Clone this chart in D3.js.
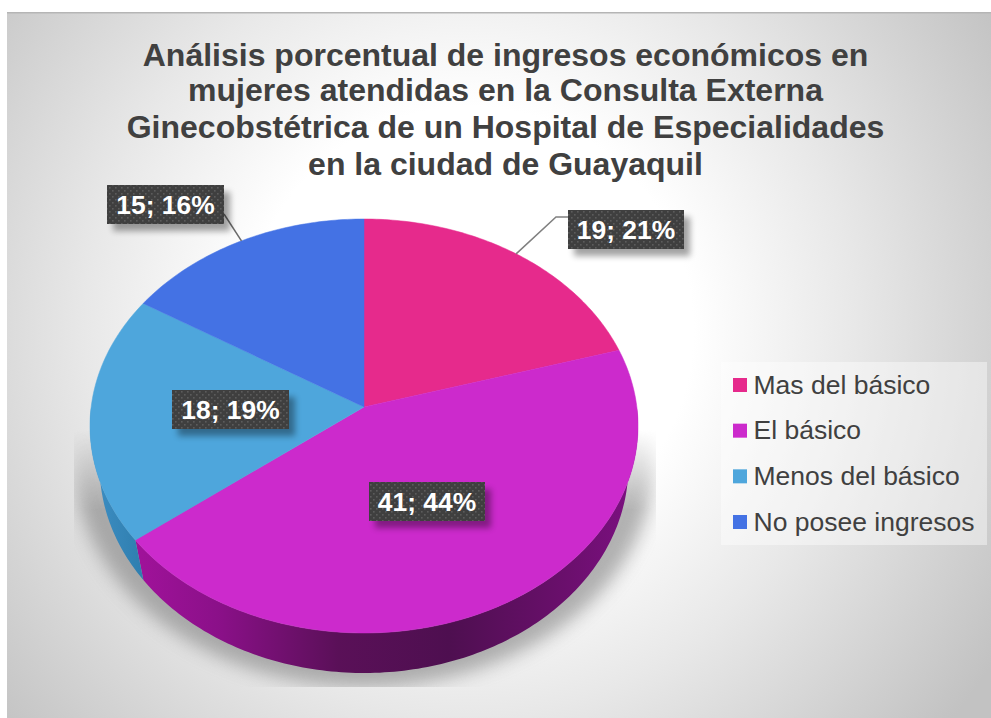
<!DOCTYPE html>
<html><head><meta charset="utf-8">
<script src="https://cdn.jsdelivr.net/npm/d3@7"></script>
<style>html,body{margin:0;padding:0;background:#fff;overflow:hidden}svg{display:block}text{font-family:"Liberation Sans",Arial,sans-serif}</style>
</head><body><div id="c"></div>
<script>
const categories=["Mas del básico","El básico","Menos del básico","No posee ingresos"];
const values=[19,41,18,15];
const percents=["21%","44%","19%","16%"];
const colors=["#e62a8c","#cc2acc","#4ea6dc","#4472e4"];
const titleLines=["Análisis porcentual de ingresos económicos en","mujeres atendidas en la Consulta Externa","Ginecobstétrica de un Hospital de Especialidades","en la ciudad de Guayaquil"];

const W=991,H=718;
const svg=d3.select("#c").append("svg").attr("width",W).attr("height",H);
const defs=svg.append("defs");

const bg=defs.append("radialGradient").attr("id","bg").attr("gradientUnits","userSpaceOnUse")
 .attr("cx",470).attr("cy",330).attr("r",620);
[[0,"#ffffff"],[0.36,"#ffffff"],[0.62,"#e8e8e8"],[1,"#c2c2c2"]].forEach(s=>bg.append("stop").attr("offset",s[0]).attr("stop-color",s[1]));

defs.append("filter").attr("id","blur").attr("x","-20%").attr("y","-20%").attr("width","140%").attr("height","140%")
 .append("feGaussianBlur").attr("stdDeviation",9);
defs.append("filter").attr("id","lblur").attr("x","-20%").attr("y","-30%").attr("width","140%").attr("height","160%")
 .append("feGaussianBlur").attr("stdDeviation",3);

// shadow is cut by a box at the sides and bottom, and fades in from above
const fade=defs.append("linearGradient").attr("id","shFade").attr("gradientUnits","userSpaceOnUse")
 .attr("x1",0).attr("x2",0).attr("y1",430).attr("y2",510);
[[0,"#000"],[1,"#fff"]].forEach(s=>fade.append("stop").attr("offset",s[0]).attr("stop-color",s[1]));
defs.append("mask").attr("id","shMask").attr("maskUnits","userSpaceOnUse")
 .attr("x",0).attr("y",0).attr("width",W).attr("height",H)
 .append("rect").attr("x",74).attr("y",430).attr("width",582).attr("height",257).attr("fill","url(#shFade)");

const pat=defs.append("pattern").attr("id","dots").attr("width",6).attr("height",6).attr("patternUnits","userSpaceOnUse");
pat.append("rect").attr("width",6).attr("height",6).attr("fill","#3f3f3f");
pat.append("rect").attr("x",1).attr("y",1).attr("width",1.6).attr("height",1.6).attr("fill","#5c5c5c");
pat.append("rect").attr("x",4).attr("y",4).attr("width",1.6).attr("height",1.6).attr("fill","#5c5c5c");

const wallGrad=defs.append("linearGradient").attr("id","wall").attr("gradientUnits","userSpaceOnUse")
 .attr("x1",137).attr("x2",640).attr("y1",0).attr("y2",0);
[[0,"#a0129a"],[0.16,"#8b1089"],[0.4,"#5a1058"],[0.62,"#4e0f50"],[0.85,"#6a0f6c"],[1,"#7d1082"]].forEach(s=>wallGrad.append("stop").attr("offset",s[0]).attr("stop-color",s[1]));
const blueWall=defs.append("linearGradient").attr("id","wallB").attr("gradientUnits","userSpaceOnUse")
 .attr("x1",90).attr("x2",140).attr("y1",0).attr("y2",0);
[[0,"#3f8fc4"],[1,"#2f7fb0"]].forEach(s=>blueWall.append("stop").attr("offset",s[0]).attr("stop-color",s[1]));

svg.append("rect").attr("x",7).attr("y",12).attr("width",W-7).attr("height",H-12).attr("fill","url(#bg)");
svg.append("rect").attr("x",7).attr("y",12).attr("width",W-7).attr("height",1.5).attr("fill","#b5b5b5");

// title
svg.append("g").selectAll("text").data(titleLines).join("text")
 .attr("x",505.5).attr("y",(d,i)=>[65.5,101,138,175][i]).attr("text-anchor","middle")
 .attr("font-size",32).attr("font-weight","bold").attr("fill","#404040").text(d=>d);

// pie geometry
const cx=364,cy=426,rx=274,ry=207,depth=40,bx=0.965,tilt=0.092;
const pie=d3.pie().sort(null).value(d=>d)(values);
// perspective view of the flat disc: the far half is compressed
function proj(a,r=1){
  const x=Math.sin(a)*r,y=Math.cos(a)*r;
  const k=1+tilt*y;
  return [cx+rx*x*Math.sqrt(1-tilt*tilt)/k, cy-ry*(y+tilt)/k];
}
function rimPts(a0,a1){const n=Math.max(2,Math.ceil((a1-a0)*60));return d3.range(n+1).map(i=>a0+(a1-a0)*i/n);}
const line=d3.line();
function wallPts(a0,a1){
  const top=rimPts(a0,a1).map(a=>proj(a));
  const bot=top.slice().reverse().map(p=>[cx+(p[0]-cx)*bx,p[1]+depth]);
  return top.concat(bot);
}

// shadow
const shadow=svg.append("g").attr("mask","url(#shMask)");
shadow.append("ellipse").attr("cx",cx).attr("cy",cy+36).attr("rx",rx+16).attr("ry",ry+18)
 .attr("fill","#808080").attr("opacity",0.6).attr("filter","url(#blur)");

// walls (only the front part of the disc shows)
const front=(a)=>Math.max(a,Math.PI/2), back=(a)=>Math.min(a,Math.PI*3/2);
const wallFill=["#7d1082","url(#wall)","url(#wallB)","#2f5bc0"];
svg.append("g").selectAll("path").data(pie.filter(d=>d.endAngle>Math.PI/2&&d.startAngle<Math.PI*3/2)).join("path")
 .attr("d",d=>line(wallPts(front(d.startAngle),back(d.endAngle)))+"Z")
 .attr("fill",d=>wallFill[d.index]);

// top faces
svg.append("g").selectAll("path").data(pie).join("path")
 .attr("d",d=>line([proj(0,0)].concat(rimPts(d.startAngle,d.endAngle).map(a=>proj(a))))+"Z")
 .attr("fill",d=>colors[d.index]).attr("stroke",d=>colors[d.index]).attr("stroke-width",0.5);

// labels
const lblFmt=(i)=>values[i]+"; "+percents[i];
const lblBoxes=[
 {i:0,x:568,y:210,w:116,h:39},
 {i:1,x:369,y:482,w:116,h:39},
 {i:2,x:172,y:390,w:117,h:39},
 {i:3,x:107,y:185,w:117,h:39}];
const mid=d=>(d.startAngle+d.endAngle)/2;
const p0=proj(mid(pie[0]));
svg.append("path").attr("d",line([p0,[556,217],[568,217]])).attr("fill","none").attr("stroke","#808080").attr("stroke-width",1.5);
const p3=proj(mid(pie[3]));
svg.append("path").attr("d",line([p3,[224,214]])).attr("fill","none").attr("stroke","#6a6a6a").attr("stroke-width",1.5);

const lg=svg.append("g").selectAll("g").data(lblBoxes).join("g");
lg.append("rect").attr("x",d=>d.x+6).attr("y",d=>d.y+7).attr("width",d=>d.w).attr("height",d=>d.h)
 .attr("fill","#000").attr("opacity",0.36).attr("filter","url(#lblur)");
lg.append("rect").attr("x",d=>d.x).attr("y",d=>d.y).attr("width",d=>d.w).attr("height",d=>d.h).attr("fill","url(#dots)");
lg.append("text").attr("x",d=>d.x+d.w/2).attr("y",d=>d.y+28.5).attr("text-anchor","middle")
 .attr("font-size",26.4).attr("font-weight","bold").attr("fill","#fff").text(d=>lblFmt(d.i));

// legend
svg.append("rect").attr("x",721).attr("y",362).attr("width",266).attr("height",183).attr("fill","#fff").attr("opacity",0.42);
const rowY=d3.scalePoint().domain(categories).range([385,522]);
const leg=svg.append("g").selectAll("g").data(categories).join("g");
leg.append("rect").attr("x",733).attr("y",d=>rowY(d)-7).attr("width",14).attr("height",14).attr("fill",(d,i)=>colors[i]);
leg.append("text").attr("x",753.5).attr("y",d=>rowY(d)+8.5).attr("font-size",26.5).attr("fill","#404040").text(d=>d);
</script></body></html>
